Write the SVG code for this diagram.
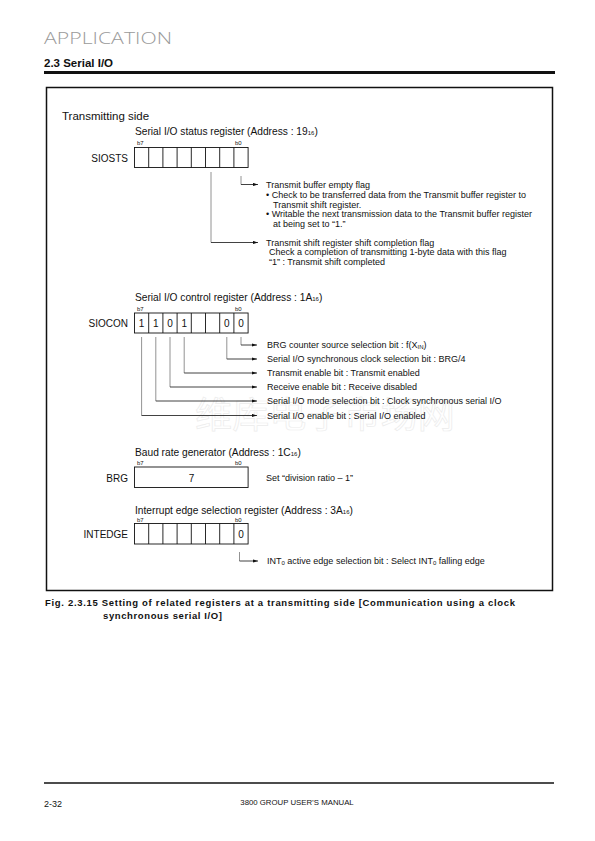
<svg xmlns="http://www.w3.org/2000/svg" width="595" height="841" viewBox="0 0 595 841">
<defs>
<style>
text{font-family:"Liberation Sans",Arial,sans-serif;fill:#111}
.t{font-size:9px}
.ti{font-size:10.2px}
.b{font-size:6px}
.lbl{font-size:10px;text-anchor:end}
.v{font-size:10px;text-anchor:middle}
.sub{font-size:6px}
.reg{fill:#fff;stroke:#111;stroke-width:0.9}
.cell{stroke:#111;stroke-width:0.9}
.vl{stroke:#777;stroke-width:0.8;fill:none}
.hl{stroke:#111;stroke-width:0.8;fill:none;marker-end:url(#ah)}
</style>
<marker id="ah" markerWidth="6" markerHeight="4" refX="5" refY="2" orient="auto" markerUnits="userSpaceOnUse">
<path d="M0,0.4 L5,2 L0,3.6 z" fill="#111"/>
</marker>
</defs>
<rect width="595" height="841" fill="#fff"/>

<!-- page header -->
<text x="44" y="44" style="font-size:17px;fill:#9a9a9a;font-family:'Open Sans','Liberation Sans',sans-serif;font-weight:300" textLength="128" lengthAdjust="spacingAndGlyphs">APPLICATION</text>
<text x="44" y="67" style="font-size:11.5px;font-weight:bold">2.3 Serial I/O</text>
<line x1="44" y1="72.5" x2="555" y2="72.5" stroke="#111" stroke-width="3"/>

<!-- frame -->
<rect x="46.5" y="87.5" width="506" height="503" fill="none" stroke="#111" stroke-width="1.5"/>

<!-- watermark -->
<text x="195" y="428" style="font-size:36px;fill:none;stroke:#ececec;stroke-width:0.7;font-family:'Noto Sans CJK SC',sans-serif" textLength="260" lengthAdjust="spacingAndGlyphs">维库电子市场网</text>

<text x="62" y="120" style="font-size:11.5px">Transmitting side</text>

<!-- SIOSTS -->
<g id="siosts">
<text x="135" y="134.5" class="ti">Serial I/O status register (Address : 19<tspan class="sub" dy="0.5">16</tspan><tspan dy="-0.5">)</tspan></text>
<text x="137" y="145" class="b">b7</text>
<text x="235" y="145" class="b">b0</text>
<text x="128" y="161.5" class="lbl">SIOSTS</text>
<rect x="134.5" y="147.5" width="113.6" height="20" class="reg"/>
<path class="cell" d="M148.7,147.5v20M162.9,147.5v20M177.1,147.5v20M191.3,147.5v20M205.5,147.5v20M219.7,147.5v20M233.9,147.5v20"/>
</g>
<g id="siosts-text">
<text x="266" y="188" class="t">Transmit buffer empty flag</text>
<text x="266" y="197.8" class="t">• Check to be transferred data from the Transmit buffer register to</text>
<text x="273" y="207.6" class="t">Transmit shift register.</text>
<text x="266" y="217.4" class="t">• Writable the next transmission data to the Transmit buffer register</text>
<text x="273" y="227.2" class="t">at being set to “1.”</text>
<text x="266" y="245.5" class="t">Transmit shift register shift completion flag</text>
<text x="269" y="255.3" class="t">Check a completion of transmitting 1-byte data with this flag</text>
<text x="269" y="265.1" class="t">“1” : Transmit shift completed</text>
</g>

<!-- SIOCON -->
<g id="siocon">
<text x="135" y="300.5" class="ti">Serial I/O control register (Address : 1A<tspan class="sub" dy="0.5">16</tspan><tspan dy="-0.5">)</tspan></text>
<text x="137" y="311" class="b">b7</text>
<text x="235" y="311" class="b">b0</text>
<text x="128" y="327" class="lbl">SIOCON</text>
<rect x="134.5" y="313" width="113.6" height="20" class="reg"/>
<path class="cell" d="M148.7,313v20M162.9,313v20M177.1,313v20M191.3,313v20M205.5,313v20M219.7,313v20M233.9,313v20"/>
<text x="141.6" y="327" class="v">1</text>
<text x="155.8" y="327" class="v">1</text>
<text x="170" y="327" class="v">0</text>
<text x="184.2" y="327" class="v">1</text>
<text x="226.8" y="327" class="v">0</text>
<text x="241" y="327" class="v">0</text>
</g>
<g id="siocon-text">
<text x="267" y="348.3" class="t">BRG counter source selection bit : f(X<tspan class="sub" dy="0.5">IN</tspan><tspan dy="-0.5">)</tspan></text>
<text x="267" y="362.3" class="t">Serial I/O synchronous clock selection bit : BRG/4</text>
<text x="267" y="376.3" class="t">Transmit enable bit : Transmit enabled</text>
<text x="267" y="390.3" class="t">Receive enable bit : Receive disabled</text>
<text x="267" y="404.3" class="t">Serial I/O mode selection bit : Clock synchronous serial I/O</text>
<text x="267" y="418.8" class="t">Serial I/O enable bit : Serial I/O enabled</text>
</g>

<!-- BRG -->
<g id="brg">
<text x="135" y="455.5" class="ti">Baud rate generator (Address : 1C<tspan class="sub" dy="0.5">16</tspan><tspan dy="-0.5">)</tspan></text>
<text x="137" y="465" class="b">b7</text>
<text x="235" y="465" class="b">b0</text>
<text x="128" y="481.5" class="lbl">BRG</text>
<rect x="134.5" y="467" width="113.6" height="20.5" class="reg"/>
<text x="191.5" y="481.5" class="v">7</text>
<text x="266" y="481" class="t">Set “division ratio – 1”</text>
</g>

<!-- INTEDGE -->
<g id="intedge">
<text x="135" y="513.5" class="ti">Interrupt edge selection register (Address : 3A<tspan class="sub" dy="0.5">16</tspan><tspan dy="-0.5">)</tspan></text>
<text x="137" y="522" class="b">b7</text>
<text x="235" y="522" class="b">b0</text>
<text x="128" y="538" class="lbl">INTEDGE</text>
<rect x="134.5" y="523.5" width="113.6" height="20.5" class="reg"/>
<path class="cell" d="M148.7,523.5v20.5M162.9,523.5v20.5M177.1,523.5v20.5M191.3,523.5v20.5M205.5,523.5v20.5M219.7,523.5v20.5M233.9,523.5v20.5"/>
<text x="241" y="538" class="v">0</text>
<text x="267" y="564.3" class="t">INT<tspan class="sub" dy="0.5">0</tspan><tspan dy="-0.5"> active edge selection bit : Select INT</tspan><tspan class="sub" dy="0.5">0</tspan><tspan dy="-0.5"> falling edge</tspan></text>
</g>

<!-- connectors -->
<g id="connectors">
<path class="vl" d="M241,176V184.5"/>
<path class="hl" d="M241,184.5H258"/>
<path class="vl" d="M211,172V242.5"/>
<path class="hl" d="M211,242.5H258"/>

<path class="vl" d="M241,337V345"/>
<path class="hl" d="M241,345H257"/>
<path class="vl" d="M226.8,337V359"/>
<path class="hl" d="M226.8,359H257"/>
<path class="vl" d="M184.2,337V373"/>
<path class="hl" d="M184.2,373H257"/>
<path class="vl" d="M170,337V387"/>
<path class="hl" d="M170,387H257"/>
<path class="vl" d="M155.8,337V401"/>
<path class="hl" d="M155.8,401H257"/>
<path class="vl" d="M141.6,337V415.5"/>
<path class="hl" d="M141.6,415.5H257"/>

<path class="vl" d="M239.5,552V561"/>
<path class="hl" d="M239.5,561H258"/>
</g>

<!-- caption -->
<text x="45" y="606" style="font-size:9.5px;font-weight:bold" textLength="470" lengthAdjust="spacing">Fig. 2.3.15 Setting of related registers at a transmitting side [Communication using a clock</text>
<text x="103" y="618.5" style="font-size:9.5px;font-weight:bold" textLength="119" lengthAdjust="spacing">synchronous serial I/O]</text>

<!-- footer -->
<line x1="44" y1="783" x2="554" y2="783" stroke="#111" stroke-width="1.6"/>
<text x="44" y="806.5" style="font-size:9px">2-32</text>
<text x="297" y="805" style="font-size:7.8px;text-anchor:middle">3800 GROUP USER’S MANUAL</text>
</svg>
